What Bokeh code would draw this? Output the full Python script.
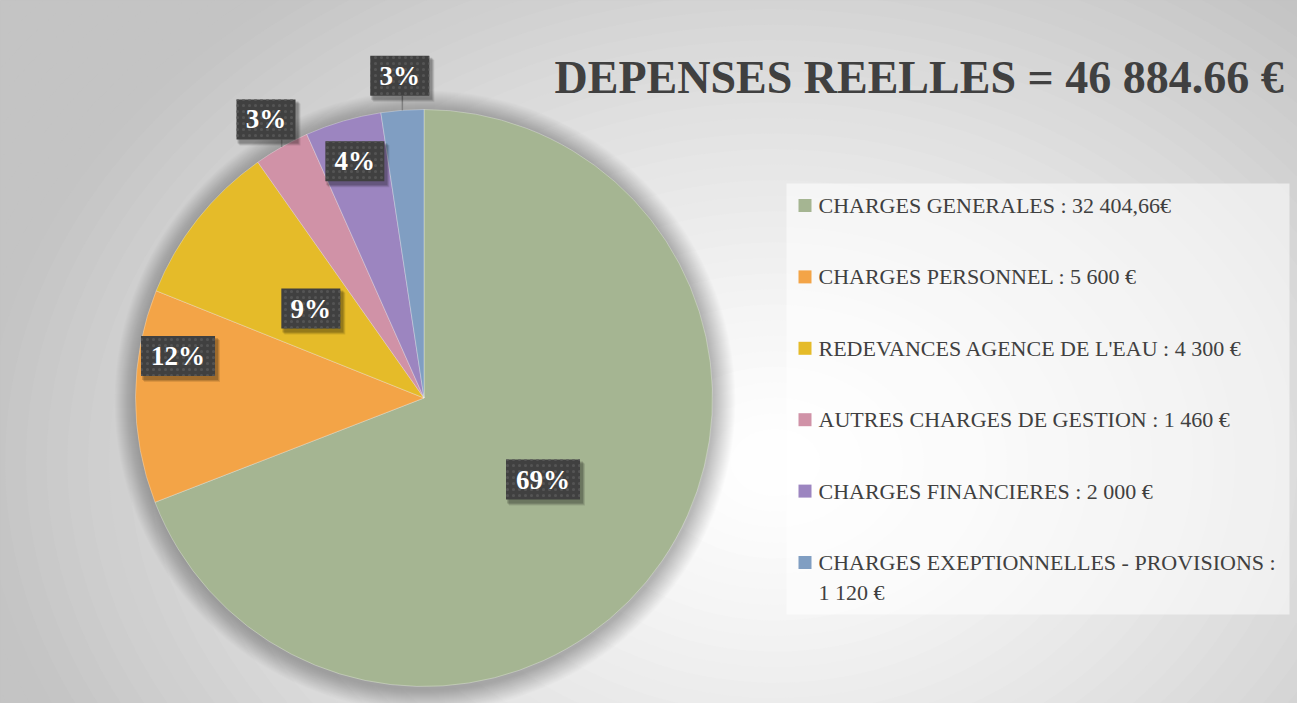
import numpy as np
from bokeh.plotting import figure
from bokeh.models import Range1d, ColumnDataSource
from bokeh.core.properties import value
from bokeh.embed import file_html
from bokeh.resources import INLINE

# ---------------- data ----------------
categories = ["CHARGES GENERALES", "CHARGES PERSONNEL", "REDEVANCES AGENCE DE L'EAU",
              "AUTRES CHARGES DE GESTION", "CHARGES FINANCIERES",
              "CHARGES EXEPTIONNELLES - PROVISIONS"]
amounts = [32404.66, 5600, 4300, 1460, 2000, 1120]
pct_labels = ["69%", "12%", "9%", "3%", "4%", "3%"]
legend_labels = ["CHARGES GENERALES : 32 404,66€",
                 "CHARGES PERSONNEL : 5 600 €",
                 "REDEVANCES AGENCE DE L'EAU : 4 300 €",
                 "AUTRES CHARGES DE GESTION : 1 460 €",
                 "CHARGES FINANCIERES : 2 000 €",
                 "CHARGES EXEPTIONNELLES - PROVISIONS  :\n1 120 €"]
colors = ["#A5B592", "#F3A447", "#E5BB29", "#D092A7", "#9C85C0", "#809EC2"]
title = "DEPENSES REELLES = 46 884.66 €"

# ---------------- layout ----------------
W, H = 1297, 703
SERIF = value("Liberation Serif")
TXT = "#404040"

p = figure(width=W, height=H, x_range=Range1d(0, W), y_range=Range1d(0, H),
           output_backend="svg", toolbar_location=None, min_border=0,
           x_axis_type=None, y_axis_type=None)
p.grid.visible = False
p.outline_line_color = "#bdbdbd"
p.background_fill_color = "#c4c4c4"
p.border_fill_color = "#c4c4c4"

# radial gradient background (decoration)
scales = np.linspace(1.3, 0.03, 50)
gcols = []
for s in scales:
    t = min(s, 1.0) ** 1.3
    v = int(round(255 - (255 - 196) * t))
    gcols.append("#%02x%02x%02x" % (v, v, v))
p.ellipse(x=775, y=241, width=[2 * 800 * s for s in scales],
          height=[2 * 600 * s for s in scales], fill_color=gcols, line_color=None)

# pie geometry
cx, cy, R = 423.5, 305.5, 288.5
vals = np.array(amounts, dtype=float)
frac = vals / vals.sum()
cum = np.concatenate([[0.0], np.cumsum(frac)])
start = np.pi / 2 - 2 * np.pi * cum[:-1]
end = np.pi / 2 - 2 * np.pi * cum[1:]
mid = (start + end) / 2

# soft shadow around the pie
p.circle(x=cx + 1, y=cy - 3, radius=[R + k for k in range(22, 0, -1)],
         fill_color="black", fill_alpha=0.011, line_color=None)

src = ColumnDataSource(dict(start=start, end=end, color=colors, cat=categories))
p.wedge(x=cx, y=cy, radius=R, start_angle="start", end_angle="end",
        direction="clock", fill_color="color", line_color="white",
        line_width=0.6, line_alpha=0.5, source=src)

# data labels
rf = np.array([0.50, 0.865, 0.50, 1.11, 0.855, 1.12])
off = np.radians([0, -9.4, 0, 0, 0, 0])
lx = cx + rf * R * np.cos(mid + off)
ly = cy + rf * R * np.sin(mid + off)
bw = [15 * len(s) + 29 for s in pct_labels]
bh = 40

outside = rf > 1
ax = cx + R * np.cos(mid[outside])
ay = cy + R * np.sin(mid[outside])
p.segment(x0=ax, y0=ay, x1=ax, y1=ly[outside] - bh / 2,
          line_color="#7f7f7f", line_width=1.5)

for dx, dy, a in [(4, -5, 0.10), (3, -4, 0.13), (2, -3, 0.16)]:
    p.rect(x=lx + dx, y=ly + dy, width=[w + 2 for w in bw], height=bh + 2,
           fill_color="black", fill_alpha=a, line_color=None)
p.rect(x=lx, y=ly, width=bw, height=bh, fill_color="#404040", line_color=None,
       hatch_pattern="dot", hatch_color="#545454", hatch_scale=6, hatch_weight=1)
p.text(x=lx, y=ly, text=pct_labels, text_color="white", text_font=SERIF,
       text_font_style="bold", text_font_size="27px", text_align="center",
       text_baseline="middle")

# title
p.text(x=[554], y=[626], text=[title], text_color=TXT, text_font=SERIF,
       text_font_style="bold", text_font_size="46px", text_align="left",
       text_baseline="middle")

# legend
p.quad(left=786, right=1289, bottom=89, top=520, fill_color="white",
       fill_alpha=0.55, line_color=None)
row_y = [711 - (213 + 71.4 * i) for i in range(len(categories))]
p.rect(x=804.5, y=row_y, width=13, height=13, fill_color=colors, line_color=None)
tx, ty, tt = [], [], []
for yy, lab in zip(row_y, legend_labels):
    for j, line in enumerate(lab.split("\n")):
        tx.append(818)
        ty.append(yy - 30 * j)
        tt.append(line)
p.text(x=tx, y=ty, text=tt, text_color=TXT, text_font=SERIF,
       text_font_size="22px", text_align="left", text_baseline="middle")

open("out.html", "w").write(file_html(p, INLINE))
